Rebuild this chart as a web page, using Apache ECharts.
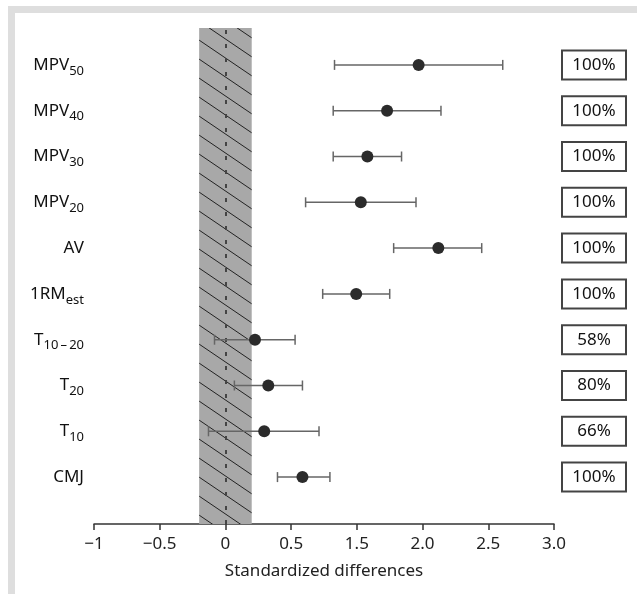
<!DOCTYPE html>
<html>
<head>
<meta charset="utf-8">
<script src="https://cdn.jsdelivr.net/npm/echarts@6/dist/echarts.min.js"></script>
<style>
  html, body { margin: 0; padding: 0; background: #fff; }
  #chart { width: 637px; height: 594px; }
</style>
</head>
<body>
<div id="chart"></div>
<script>
// rows, top to bottom: label text and its subscript
var labelMain = ['MPV', 'MPV', 'MPV', 'MPV', 'AV', '1RM', 'T', 'T', 'T', 'CMJ'];
var labelSub = ['50', '40', '30', '20', '', 'est', '10\u2009\u2013\u200920', '20', '10', ''];
var percents = ['100%', '100%', '100%', '100%', '100%', '100%', '58%', '80%', '66%', '100%'];

// mean and interval limits, read in the units of the drawn (evenly spaced) axis
var means = [1.47, 1.23, 1.08, 1.03, 1.62, 0.995, 0.225, 0.326, 0.295, 0.586];
var lows = [0.83, 0.82, 0.82, 0.61, 1.28, 0.74, -0.083, 0.068, -0.129, 0.396];
var highs = [2.11, 1.64, 1.34, 1.45, 1.95, 1.25, 0.53, 0.586, 0.712, 0.795];

// the printed tick labels (the original skips 1.0)
var tickLabels = ['\u22121', '\u22120.5', '0', '0.5', '1.5', '2.0', '2.5', '3.0'];
var band = [-0.2, 0.2];

var FONT = '"Noto Sans", "Open Sans", sans-serif';

function hatch() {
    var c = document.createElement('canvas');
    c.width = 28;
    c.height = 19;
    var g = c.getContext('2d');
    g.fillStyle = '#a8a8a8';
    g.fillRect(0, 0, 28, 19);
    g.strokeStyle = '#222';
    g.lineWidth = 1;
    [-19, 0, 19].forEach(function (o) {
        g.beginPath();
        g.moveTo(0, o);
        g.lineTo(28, o + 19);
        g.stroke();
    });
    return c;
}

var chart = echarts.init(document.getElementById('chart'), null, { renderer: 'canvas' });

var option = {
    backgroundColor: '#fff',
    animation: false,
    graphic: [
        { type: 'rect', shape: { x: 8, y: 6, width: 629, height: 7 }, style: { fill: '#dedede' }, silent: true },
        { type: 'rect', shape: { x: 8, y: 6, width: 7, height: 588 }, style: { fill: '#dedede' }, silent: true }
    ],
    grid: [
        { left: 94, right: 83, top: 28, bottom: 70 },
        { left: 94, right: 83, top: 42, height: 458 }
    ],
    xAxis: [
        {
            gridIndex: 0,
            type: 'value',
            min: -1,
            max: 2.5,
            interval: 0.5,
            name: 'Standardized differences',
            nameLocation: 'middle',
            nameGap: 39,
            nameTextStyle: { fontFamily: FONT, fontSize: 17, color: '#222' },
            axisLine: { lineStyle: { color: '#333', width: 1.5 } },
            axisTick: { length: 6, lineStyle: { color: '#333', width: 1.5 } },
            axisLabel: {
                margin: 12,
                fontFamily: FONT,
                fontSize: 17,
                color: '#222',
                formatter: function (v) {
                    return tickLabels[Math.round((v + 1) / 0.5)];
                }
            },
            splitLine: { show: false }
        },
        {
            gridIndex: 1,
            type: 'value',
            min: -1,
            max: 2.5,
            show: false
        }
    ],
    yAxis: [
        { gridIndex: 0, type: 'value', min: 0, max: 1, show: false },
        {
            gridIndex: 1,
            type: 'category',
            inverse: true,
            data: labelMain.map(function (m, i) { return m + labelSub[i]; }),
            axisLine: { show: false },
            axisTick: { show: false },
            axisLabel: {
                margin: 10,
                formatter: function (v, i) {
                    return labelSub[i] ? '{m|' + labelMain[i] + '}{s|' + labelSub[i] + '}' : '{m|' + labelMain[i] + '}';
                },
                rich: {
                    m: { fontFamily: FONT, fontSize: 17, color: '#111', lineHeight: 22 },
                    s: { fontFamily: FONT, fontSize: 13, color: '#111', lineHeight: 22, padding: [12, 0, 0, 0] }
                }
            }
        },
        {
            gridIndex: 1,
            type: 'category',
            inverse: true,
            position: 'right',
            data: percents,
            axisLine: { show: false },
            axisTick: { show: false },
            axisLabel: {
                margin: 9,
                formatter: function (v) { return '{b|' + v + '}'; },
                rich: {
                    b: {
                        fontFamily: FONT,
                        fontSize: 17,
                        color: '#111',
                        width: 62,
                        height: 27,
                        align: 'center',
                        borderColor: '#444',
                        borderWidth: 2,
                        backgroundColor: '#fff'
                    }
                }
            }
        }
    ],
    series: [
        {
            type: 'line',
            xAxisIndex: 0,
            yAxisIndex: 0,
            data: [],
            silent: true,
            markArea: {
                silent: true,
                itemStyle: { color: { image: hatch(), repeat: 'repeat' } },
                data: [[{ xAxis: band[0] }, { xAxis: band[1] }]]
            },
            markLine: {
                silent: true,
                symbol: 'none',
                label: { show: false },
                lineStyle: { color: '#444', width: 2, type: [4, 10] },
                data: [{ xAxis: 0 }]
            }
        },
        {
            type: 'custom',
            xAxisIndex: 1,
            yAxisIndex: 1,
            z: 5,
            data: lows.map(function (lo, i) { return [lo, highs[i], i]; }),
            encode: { x: [0, 1], y: 2 },
            renderItem: function (params, api) {
                var a = api.coord([api.value(0), api.value(2)]);
                var b = api.coord([api.value(1), api.value(2)]);
                var st = { stroke: '#666', lineWidth: 1.5 };
                return {
                    type: 'group',
                    children: [
                        { type: 'line', shape: { x1: a[0], y1: a[1], x2: b[0], y2: b[1] }, style: st },
                        { type: 'line', shape: { x1: a[0], y1: a[1] - 5, x2: a[0], y2: a[1] + 5 }, style: st },
                        { type: 'line', shape: { x1: b[0], y1: b[1] - 5, x2: b[0], y2: b[1] + 5 }, style: st }
                    ]
                };
            }
        },
        {
            type: 'scatter',
            xAxisIndex: 1,
            yAxisIndex: 1,
            z: 6,
            symbolSize: 12,
            itemStyle: { color: '#2b2b2b', opacity: 1 },
            data: means.map(function (m, i) { return [m, i]; })
        }
    ]
};

chart.setOption(option);
</script>
</body>
</html>
